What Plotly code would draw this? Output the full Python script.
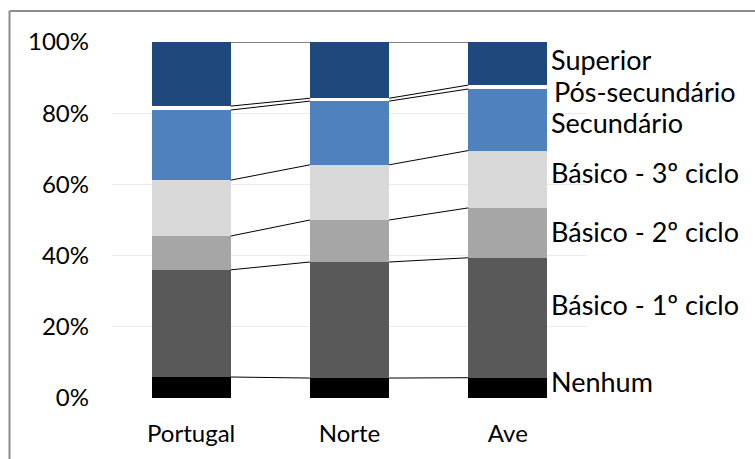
import plotly.graph_objects as go

# Population by highest education level completed (% of total)
regions = ["Portugal", "Norte", "Ave"]
levels = ["Nenhum", "Básico - 1º ciclo", "Básico - 2º ciclo", "Básico - 3º ciclo",
          "Secundário", "Pós-secundário", "Superior"]
nenhum = [5.9, 5.6, 5.7]
basico1 = [30.1, 32.6, 33.7]
basico2 = [9.5, 11.8, 14.0]
basico3 = [15.7, 15.5, 16.1]
secundario = [19.7, 17.9, 17.3]
pos_secundario = [1.1, 0.8, 1.1]
superior = [18.0, 15.8, 12.1]
y_ticks = [0, 20, 40, 60, 80, 100]
y_tick_labels = ["0%", "20%", "40%", "60%", "80%", "100%"]

series = [nenhum, basico1, basico2, basico3, secundario, pos_secundario, superior]
colors = ["#000000", "#595959", "#A6A6A6", "#D9D9D9", "#4F81BD", "#FFFFFF", "#1F497D"]

# label placement to the right of the last bar (data units on the y axis)
label_y = [4.5, 26.2, 46.8, 63.3, 77.3, 86.0, 95.0]
label_dx = [0, 0, 0, 0, 0, 3, 0]

BAR_W = 0.5
x_pos = list(range(len(regions)))

fig = go.Figure()

for name, vals, col in zip(levels, series, colors):
    fig.add_trace(go.Bar(
        x=x_pos, y=vals, name=name, width=BAR_W,
        marker=dict(color=col, line=dict(width=0)),
        showlegend=False, hoverinfo="name+y",
    ))

# series lines joining the top of each segment between neighbouring bars
cum = [0.0] * len(regions)
for vals in series:
    cum = [c + v for c, v in zip(cum, vals)]
    for i in range(len(regions) - 1):
        fig.add_trace(go.Scatter(
            x=[i + BAR_W / 2, i + 1 - BAR_W / 2],
            y=[cum[i], cum[i + 1]],
            mode="lines", line=dict(color="#000000", width=1),
            showlegend=False, hoverinfo="skip",
        ))

for name, ly, dx in zip(levels, label_y, label_dx):
    fig.add_annotation(
        x=len(regions) - 1 + BAR_W / 2, y=ly, xref="x", yref="y",
        text=name, showarrow=False, xanchor="left", yanchor="middle",
        xshift=2 + dx, font=dict(family="Lato", size=27, color="#000000"),
    )

# chart frame (left and top edges)
fig.add_shape(type="line", xref="paper", yref="paper",
              x0=-0.2158, x1=-0.2158, y0=1.087, y1=-0.2,
              line=dict(color="#8C8C8C", width=2))
fig.add_shape(type="line", xref="paper", yref="paper",
              x0=-0.2158, x1=1.4, y0=1.087, y1=1.087,
              line=dict(color="#8C8C8C", width=2))

fig.update_layout(
    barmode="stack",
    width=755, height=459,
    margin=dict(l=112, r=168, t=42, b=61),
    paper_bgcolor="#FFFFFF", plot_bgcolor="#FFFFFF",
    font=dict(family="Lato", size=24, color="#000000"),
    bargap=0,
)
fig.update_xaxes(
    range=[-0.5, 2.5], tickmode="array", tickvals=x_pos, ticktext=regions,
    showgrid=False, zeroline=False, showline=False, ticks="",
    ticklabelstandoff=19,
)
fig.update_yaxes(
    range=[0, 100], tickmode="array", tickvals=y_ticks, ticktext=y_tick_labels,
    showgrid=True, gridcolor="#EBEBEB", gridwidth=1, zeroline=False,
    showline=False, ticks="", ticklabelstandoff=22,
)

fig.write_html("out.html")
